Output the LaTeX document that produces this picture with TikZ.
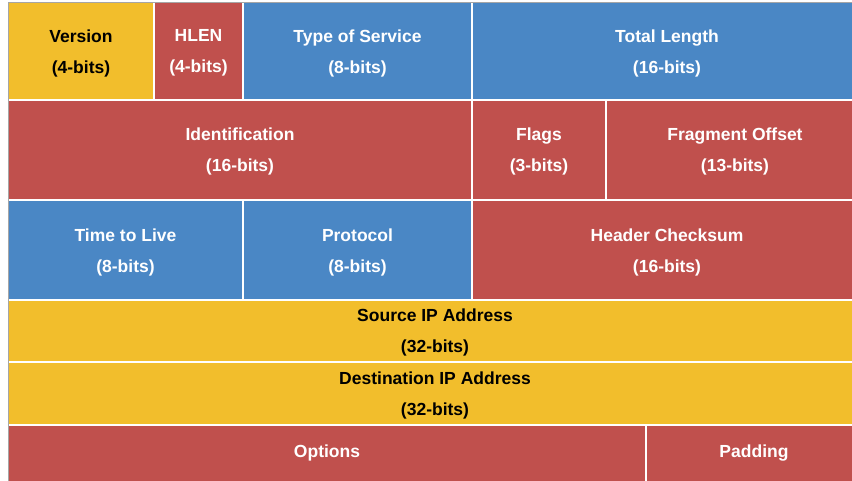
\documentclass[tikz,border=0pt]{standalone}
\usepackage{fontspec}
\setmainfont{Liberation Sans}
\definecolor{ylw}{HTML}{F2BE2C}
\definecolor{rd}{HTML}{C0504D}
\definecolor{bl}{HTML}{4A87C5}
\begin{document}
\begin{tikzpicture}[x=1pt,y=-1pt,
  cellbox/.style={draw=white,line width=1.6pt},
  lbl/.style={font=\fontsize{17.5}{31}\selectfont\bfseries,align=center,inner sep=0pt},
  wt/.style={lbl,text=white},
  bk/.style={lbl,text=black}]
\useasboundingbox (0,0) rectangle (852,481);
\fill[white] (0,0) rectangle (852,481);
% row 1
\fill[ylw] (8,3) rectangle (154,100);
\fill[rd] (154,3) rectangle (243,100);
\fill[bl] (243,3) rectangle (472,100);
\fill[bl] (472,3) rectangle (852,100);
% row 2
\fill[rd] (8,100) rectangle (852,200);
% row 3
\fill[bl] (8,200) rectangle (472,300);
\fill[rd] (472,200) rectangle (852,300);
% rows 4-5
\fill[ylw] (8,300) rectangle (852,425);
% row 6
\fill[rd] (8,425) rectangle (852,481);
% white grid lines
\draw[cellbox] (154,3) -- (154,100) (243,3) -- (243,100) (472,3) -- (472,300)
  (8,100) -- (852,100) (606,100) -- (606,200) (8,200) -- (852,200)
  (243,200) -- (243,300) (8,300) -- (852,300) (8,362) -- (852,362)
  (8,425) -- (852,425) (646,425) -- (646,481);
% gray outer border
\draw[gray!70,line width=1pt] (8,481) -- (8,3) -- (852,3);
% labels
\node[bk] (ver) at (81,53) {Version\\(4-bits)};
\node[wt] (hlen) at (198.5,53) {HLEN\\(4-bits)};
\node[wt] (tos) at (357.5,53) {Type of Service\\(8-bits)};
\node[wt] (tl) at (667,53) {Total Length\\(16-bits)};
\node[wt] (id) at (240,151.5) {Identification\\(16-bits)};
\node[wt] (fl) at (539,151.5) {Flags\\(3-bits)};
\node[wt] (fo) at (735,151.5) {Fragment Offset\\(13-bits)};
\node[wt] (ttl) at (125.5,252) {Time to Live\\(8-bits)};
\node[wt] (pr) at (357.5,252) {Protocol\\(8-bits)};
\node[wt] (hc) at (667,252) {Header Checksum\\(16-bits)};
\node[bk] (src) at (435,332.5) {Source IP Address\\(32-bits)};
\node[bk] (dst) at (435,395) {Destination IP Address\\(32-bits)};
\node[wt] (opt) at (327,453) {Options};
\node[wt] (pad) at (754,453) {Padding};
\end{tikzpicture}
\end{document}
